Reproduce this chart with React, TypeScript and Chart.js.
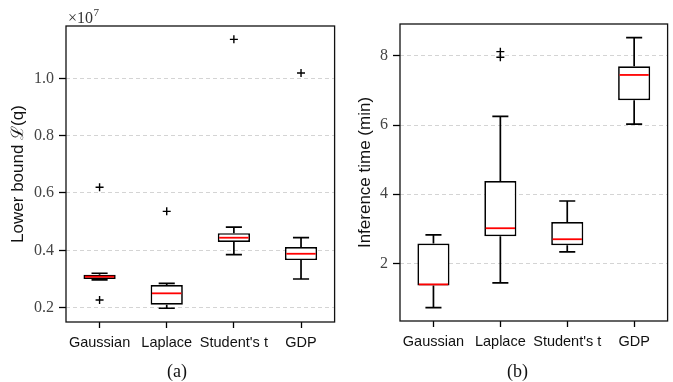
import React, { useEffect, useRef } from 'react';
import { Chart, registerables } from 'chart.js';

Chart.register(...registerables);

const categories = ['Gaussian', 'Laplace', "Student's t", 'GDP'];

// (a) Lower bound L(q), in units of 1e7
const boundWhiskerLow = [0.297, 0.198, 0.385, 0.3];
const boundQ1 = [0.3, 0.21, 0.429, 0.366];
const boundMedian = [0.308, 0.25, 0.444, 0.388];
const boundQ3 = [0.315, 0.279, 0.46, 0.4115];
const boundWhiskerHigh = [0.32, 0.285, 0.481, 0.444];
const boundOutlierCats = ['Gaussian', 'Gaussian', 'Laplace', "Student's t", 'GDP'];
const boundOutlierValues = [0.62, 0.227, 0.536, 1.136, 1.0185];
const boundTicks = [0.2, 0.4, 0.6, 0.8, 1.0];

// (b) Inference time (min)
const timeWhiskerLow = [0.72, 1.44, 2.335, 6.03];
const timeQ1 = [1.365, 2.787, 2.528, 6.72];
const timeMedian = [1.394, 3.018, 2.7, 7.45];
const timeQ3 = [2.577, 4.384, 3.2, 7.703];
const timeWhiskerHigh = [2.825, 6.25, 3.806, 8.528];
const timeOutlierCats = ['Laplace', 'Laplace'];
const timeOutlierValues = [8.124, 7.96];
const timeTicks = [2, 4, 6, 8];

const SANS = "'Liberation Sans', Arial, sans-serif";
const SERIF = "'Liberation Serif', 'Times New Roman', serif";

type Spec = {
  low: number[];
  q1: number[];
  med: number[];
  q3: number[];
  high: number[];
  outCats: string[];
  outVals: number[];
  ticks: number[];
  decimals: number;
  yMin: number;
  yMax: number;
  yTitle: string;
  titlePad: number;
  multiplier: boolean;
  width: number;
  height: number;
  padTop: number;
  padRight: number;
  yAxisWidth: number;
  xAxisHeight: number;
};

function BoxPlot(props: { spec: Spec; left: number }) {
  const ref = useRef<HTMLCanvasElement>(null);
  useEffect(() => {
    const p = props.spec;
    const boxPlugin = {
      id: 'boxWhisker',
      beforeDatasetsDraw(chart: any) {
        const meta = chart.getDatasetMeta(0);
        const y = chart.scales.y;
        const ctx = chart.ctx;
        ctx.save();
        ctx.strokeStyle = '#000';
        ctx.lineWidth = 1.7;
        meta.data.forEach((bar: any, i: number) => {
          const x = bar.x;
          const w = bar.width;
          const segs = [
            [p.q3[i], p.high[i]],
            [p.q1[i], p.low[i]],
          ];
          for (const [from, to] of segs) {
            const y0 = y.getPixelForValue(from);
            const y1 = y.getPixelForValue(to);
            ctx.beginPath();
            ctx.moveTo(x, y0);
            ctx.lineTo(x, y1);
            ctx.moveTo(x - w / 4, y1);
            ctx.lineTo(x + w / 4, y1);
            ctx.stroke();
          }
        });
        ctx.restore();
      },
      afterDatasetsDraw(chart: any) {
        const meta = chart.getDatasetMeta(0);
        const y = chart.scales.y;
        const ctx = chart.ctx;
        ctx.save();
        ctx.strokeStyle = '#ff0000';
        ctx.lineWidth = 1.8;
        meta.data.forEach((bar: any, i: number) => {
          const x = bar.x;
          const w = bar.width;
          const ym = y.getPixelForValue(p.med[i]);
          ctx.beginPath();
          ctx.moveTo(x - w / 2 + 1.4, ym);
          ctx.lineTo(x + w / 2 - 1.4, ym);
          ctx.stroke();
        });
        ctx.restore();
      },
      afterDraw(chart: any) {
        const a = chart.chartArea;
        const ctx = chart.ctx;
        ctx.save();
        ctx.strokeStyle = '#111';
        ctx.lineWidth = 1.3;
        ctx.strokeRect(a.left, a.top, a.right - a.left, a.bottom - a.top);
        if (p.multiplier) {
          ctx.fillStyle = '#333';
          ctx.textBaseline = 'alphabetic';
          ctx.font = `16px ${SERIF}`;
          const base = '\u00d710';
          ctx.fillText(base, a.left + 2, a.top - 3);
          const w = ctx.measureText(base).width;
          ctx.font = `11px ${SERIF}`;
          ctx.fillText('7', a.left + 2 + w + 0.5, a.top - 10);
        }
        ctx.restore();
      },
    };

    const chart = new Chart(ref.current as HTMLCanvasElement, {
      type: 'bar',
      data: {
        labels: categories,
        datasets: [
          {
            type: 'bar',
            data: categories.map((_, i) => [p.q1[i], p.q3[i]]) as any,
            backgroundColor: '#ffffff',
            borderColor: '#000000',
            borderWidth: 1.7,
            borderSkipped: false,
            barPercentage: 0.48,
            categoryPercentage: 1,
          } as any,
          {
            type: 'line',
            data: p.outCats.map((c, i) => ({ x: c, y: p.outVals[i] })) as any,
            showLine: false,
            pointStyle: 'cross',
            pointRadius: 4,
            pointBorderWidth: 1.4,
            pointBorderColor: '#000',
            borderColor: '#000',
          } as any,
        ],
      },
      options: {
        animation: false,
        responsive: false,
        layout: {
          padding: { top: p.padTop, right: p.padRight, left: 0, bottom: 0 },
        },
        plugins: {
          legend: { display: false },
          tooltip: { enabled: false },
        },
        scales: {
          x: {
            type: 'category',
            offset: true,
            afterFit: (s: any) => {
              s.height = p.xAxisHeight;
            },
            grid: {
              display: true,
              drawOnChartArea: false,
              drawTicks: true,
              offset: false,
              tickLength: 6,
              tickColor: '#000',
              tickWidth: 1.3,
            },
            border: { display: false },
            ticks: {
              color: '#111',
              padding: 6,
              maxRotation: 0,
              minRotation: 0,
              autoSkip: false,
              font: { family: SANS, size: 14.5 },
            },
          },
          y: {
            type: 'linear',
            min: p.yMin,
            max: p.yMax,
            afterFit: (s: any) => {
              s.width = p.yAxisWidth;
            },
            afterBuildTicks: (s: any) => {
              s.ticks = p.ticks.map((v) => ({ value: v }));
            },
            grid: {
              color: '#d4d4d4',
              lineWidth: 1,
              tickLength: 7,
              tickColor: '#000',
              tickWidth: 1.3,
            },
            border: { display: false, dash: [4, 3] },
            ticks: {
              color: '#444',
              padding: 5,
              font: { family: SERIF, size: 16 },
              callback: (v: any) => Number(v).toFixed(p.decimals),
            },
            title: {
              display: true,
              text: p.yTitle,
              color: '#111',
              padding: { top: p.titlePad, bottom: 0 },
              font: { family: SANS, size: 17 },
            },
          },
        },
      },
      plugins: [boxPlugin],
    });
    return () => chart.destroy();
  }, []);
  return (
    <canvas
      ref={ref}
      width={props.spec.width}
      height={props.spec.height}
      style={{ position: 'absolute', left: props.left, top: 0, width: props.spec.width, height: props.spec.height }}
    />
  );
}

const specA: Spec = {
  low: boundWhiskerLow,
  q1: boundQ1,
  med: boundMedian,
  q3: boundQ3,
  high: boundWhiskerHigh,
  outCats: boundOutlierCats,
  outVals: boundOutlierValues,
  ticks: boundTicks,
  decimals: 1,
  yMin: 0.15,
  yMax: 1.1825,
  yTitle: 'Lower bound \u2112(q)',
  titlePad: 8,
  multiplier: true,
  width: 340,
  height: 382,
  padTop: 26,
  padRight: 4,
  yAxisWidth: 66,
  xAxisHeight: 60,
};

const specB: Spec = {
  low: timeWhiskerLow,
  q1: timeQ1,
  med: timeMedian,
  q3: timeQ3,
  high: timeWhiskerHigh,
  outCats: timeOutlierCats,
  outVals: timeOutlierValues,
  ticks: timeTicks,
  decimals: 0,
  yMin: 0.336,
  yMax: 8.923,
  yTitle: 'Inference time (min)',
  titlePad: 15,
  multiplier: false,
  width: 333,
  height: 382,
  padTop: 24,
  padRight: 1,
  yAxisWidth: 60,
  xAxisHeight: 61,
};

export default function App() {
  const cap: React.CSSProperties = {
    position: 'absolute',
    top: 361,
    width: 100,
    textAlign: 'center',
    fontFamily: SERIF,
    fontSize: 18,
    lineHeight: '20px',
    color: '#111',
  };
  return (
    <div style={{ position: 'fixed', left: 0, top: 0, width: 673, height: 382, background: '#fff', overflow: 'hidden' }}>
      <BoxPlot spec={specA} left={0} />
      <BoxPlot spec={specB} left={340} />
      <div style={{ ...cap, left: 177 - 50 }}>(a)</div>
      <div style={{ ...cap, left: 517.5 - 50 }}>(b)</div>
    </div>
  );
}
